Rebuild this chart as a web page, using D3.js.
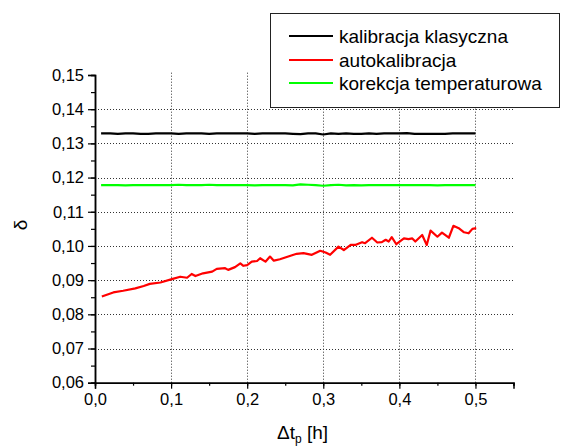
<!DOCTYPE html>
<html><head><meta charset="utf-8">
<script src="https://cdn.jsdelivr.net/npm/d3@7"></script>
<style>body{margin:0;background:#fff}svg{display:block}</style>
</head><body>
<script>
const seriesNames = ["kalibracja klasyczna","autokalibracja","korekcja temperaturowa"];
const seriesColors = ["#000000","#ff0000","#00ff00"];
const xTicks = [0.0,0.1,0.2,0.3,0.4,0.5];
const yTicks = [0.06,0.07,0.08,0.09,0.10,0.11,0.12,0.13,0.14,0.15];
const tFlat = [0.008,0.01,0.02,0.03,0.04,0.05,0.06,0.07,0.08,0.09,0.10,0.11,0.12,0.13,0.14,0.15,0.16,0.17,0.18,0.19,0.20,0.21,0.22,0.23,0.24,0.25,0.26,0.27,0.28,0.29,0.30,0.31,0.32,0.33,0.34,0.35,0.36,0.37,0.38,0.39,0.40,0.41,0.42,0.43,0.44,0.45,0.46,0.47,0.48,0.49,0.50];
const klasyczna = [0.1329,0.1329,0.1329,0.1328,0.1329,0.1329,0.1328,0.1328,0.1329,0.1329,0.1329,
0.1328,0.1329,0.1329,0.1329,0.1328,0.1329,0.1329,0.1329,0.1329,0.1329,
0.1328,0.1329,0.1329,0.1329,0.1329,0.1328,0.1327,0.1329,0.1329,0.1326,
0.1329,0.1328,0.1329,0.1328,0.1328,0.1329,0.1328,0.1329,0.1329,0.1329,
0.1330,0.1328,0.1328,0.1328,0.1328,0.1328,0.1329,0.1329,0.1329,0.1329];
const temperaturowa = [0.1178,0.1178,0.1178,0.1178,0.1177,0.1178,0.1178,0.1178,0.1178,0.1178,0.1178,
0.1179,0.1178,0.1178,0.1178,0.1179,0.1178,0.1178,0.1178,0.1178,0.1178,
0.1177,0.1178,0.1178,0.1178,0.1178,0.1177,0.1180,0.1179,0.1178,0.1176,
0.1178,0.1179,0.1177,0.1178,0.1177,0.1178,0.1178,0.1178,0.1178,0.1178,
0.1178,0.1178,0.1178,0.1178,0.1177,0.1178,0.1178,0.1178,0.1178,0.1178];
const tAuto = [0.009,0.024,0.037,0.053,0.064,0.072,0.086,0.101,0.112,0.121,0.127,0.132,0.142,0.154,0.160,0.171,0.175,0.184,0.191,0.195,0.200,0.206,0.213,0.217,0.224,0.230,0.235,0.243,0.254,0.265,0.274,0.285,0.296,0.303,0.309,0.320,0.327,0.336,0.342,0.351,0.355,0.364,0.371,0.377,0.382,0.386,0.390,0.396,0.406,0.412,0.417,0.421,0.430,0.436,0.441,0.450,0.456,0.465,0.471,0.478,0.485,0.491,0.496,0.501];
const autokalibracja = [0.0852,0.0864,0.0869,0.0876,0.0883,0.0889,0.0893,0.0903,0.0910,0.0907,0.0918,0.0912,0.0920,0.0925,0.0933,0.0935,0.0930,0.0938,0.0949,0.0942,0.0944,0.0954,0.0956,0.0964,0.0954,0.0969,0.0957,0.0961,0.0969,0.0977,0.0979,0.0974,0.0986,0.0981,0.0974,0.0998,0.0988,0.1003,0.1003,0.1011,0.1008,0.1024,0.1010,0.1011,0.1018,0.1013,0.1026,0.1005,0.1022,0.1020,0.1022,0.1013,0.1032,0.1003,0.1045,0.1027,0.1039,0.1024,0.1059,0.1052,0.1040,0.1037,0.1050,0.1052];

const W = 561, H = 447;
const FONT = "Arial, 'Liberation Sans', sans-serif";
const svg = d3.select("body").append("svg").attr("width", W).attr("height", H)
  .style("font-family", FONT);

const x = d3.scaleLinear().domain([0, 0.55]).range([95, 513.5]);
const y = d3.scaleLinear().domain([0.06, 0.15]).range([382.7, 75]);
const fmt = (d, n) => d.toFixed(n).replace(".", ",");

// grid
const grid = svg.append("g").attr("stroke", "#333").attr("stroke-width", 1).attr("stroke-dasharray", "1,2");
grid.selectAll("line.h").data(yTicks.filter(d => d > 0.0601 && d < 0.1499)).join("line")
  .attr("x1", x(0)).attr("x2", x(0.55)).attr("y1", d => Math.round(y(d)) + 0.5).attr("y2", d => Math.round(y(d)) + 0.5);
grid.selectAll("line.v").data(xTicks.filter(d => d > 0.001)).join("line")
  .attr("y1", y(0.06)).attr("y2", 72).attr("x1", d => Math.round(x(d)) + 0.5).attr("x2", d => Math.round(x(d)) + 0.5);

// series
const line = d3.line().x(d => x(d[0])).y(d => y(d[1]));
const series = [
  d3.zip(tFlat, klasyczna),
  d3.zip(tAuto, autokalibracja),
  d3.zip(tFlat, temperaturowa)
];
series.forEach((s, i) => {
  svg.append("path").datum(s).attr("d", line).attr("fill", "none")
    .attr("stroke", seriesColors[i]).attr("stroke-width", 2.2).attr("stroke-linejoin", "round");
});

// axes
const xMinor = d3.range(0, 0.5501, 0.05);
const yMinor = d3.range(0.06, 0.1501, 0.005);
const gx = svg.append("g").attr("transform", `translate(0,${y(0.06)})`);
gx.call(d3.axisBottom(x).tickValues(xMinor).tickSize(3).tickFormat(""));
gx.call(g => g.append("g").call(d3.axisBottom(x).tickValues(xTicks).tickSize(6).tickPadding(5).tickFormat(d => fmt(d, 1))));
const gy = svg.append("g").attr("transform", `translate(${x(0)},0)`);
gy.call(d3.axisLeft(y).tickValues(yMinor).tickSize(4).tickFormat(""));
gy.call(g => g.append("g").call(d3.axisLeft(y).tickValues(yTicks).tickSize(7).tickPadding(4).tickFormat(d => fmt(d, 2))));
svg.selectAll(".domain").attr("stroke", "#000").attr("stroke-width", 1.5);
svg.selectAll(".tick line").attr("stroke", "#000").attr("stroke-width", 1.2);
svg.selectAll(".tick text").attr("font-size", 16.5).attr("font-family", FONT).attr("fill", "#000");

// axis titles
const xt = svg.append("text").attr("x", 277).attr("y", 439).attr("font-size", 19).attr("fill", "#000");
xt.append("tspan").text("Δt");
xt.append("tspan").attr("font-size", 12).attr("dy", 4).text("p");
xt.append("tspan").attr("dy", -4).text(" [h]");
svg.append("text").attr("transform", "translate(27,225) rotate(-90)").attr("text-anchor", "middle")
  .attr("font-size", 19).attr("fill", "#000").text("δ");

// legend
const lg = svg.append("g");
lg.append("rect").attr("x", 270.5).attr("y", 13.5).attr("width", 289).attr("height", 94)
  .attr("fill", "#fff").attr("stroke", "#222").attr("stroke-width", 1);
const rows = [36, 60, 83];
seriesNames.forEach((n, i) => {
  lg.append("line").attr("x1", 289).attr("x2", 333).attr("y1", rows[i]).attr("y2", rows[i])
    .attr("stroke", seriesColors[i]).attr("stroke-width", 2);
  lg.append("text").attr("x", 339).attr("y", rows[i] + 6.5).attr("font-size", 19).attr("fill", "#000").text(n);
});
</script>
</body></html>
